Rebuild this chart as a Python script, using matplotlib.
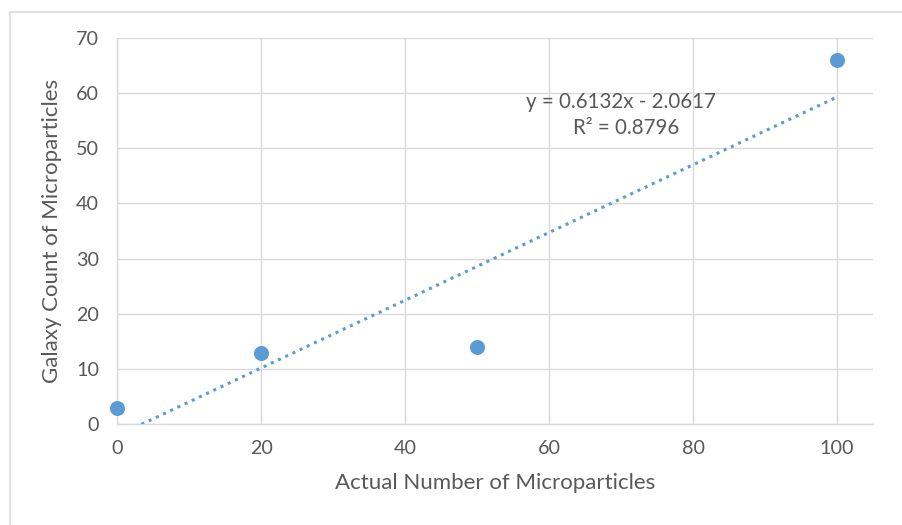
import matplotlib
matplotlib.use("Agg")
import matplotlib.pyplot as plt
import numpy as np
from matplotlib.patches import Rectangle

plt.rcParams['font.family'] = ['Lato', 'DejaVu Sans']

actual = [0, 20, 50, 100]
galaxy = [3, 13, 14, 66]
slope = 0.6132
intercept = -2.0617
r2 = 0.8796
xticks = [0, 20, 40, 60, 80, 100]
yticks = [0, 10, 20, 30, 40, 50, 60, 70]

blue = '#5B9BD5'
grid = '#D9D9D9'
txt = '#595959'

fig = plt.figure(figsize=(9.02, 5.25), dpi=100)
fig.patches.append(Rectangle((10/902, -0.1), 1.2, 1.1 - 12/525, transform=fig.transFigure,
                             fill=False, edgecolor='#D9D9D9', linewidth=1.2))
ax = fig.add_axes([117.3/902, 1 - 424.3/525, (873 - 117.3)/902, (424.3 - 37.7)/525])

# trendline from y=0 to x=100
x0 = -intercept / slope
tx = np.array([x0, 100])
ax.plot(tx, slope * tx + intercept, linestyle=(0, (1, 1.6)), color=blue, linewidth=2.2, zorder=3)
ax.plot(actual, galaxy, 'o', color=blue, markersize=9.8, zorder=4, clip_on=False)

ax.set_xlim(0, 105)
ax.set_ylim(0, 70)
ax.set_xticks(xticks)
ax.set_yticks(yticks)
ax.grid(True, color=grid, linewidth=1.0)
ax.set_axisbelow(True)
for s in ['top', 'right']:
    ax.spines[s].set_visible(False)
for s in ['left', 'bottom']:
    ax.spines[s].set_color(grid)
    ax.spines[s].set_linewidth(1.0)
ax.tick_params(length=0, labelsize=14.2, colors=txt, pad=11)
ax.tick_params(axis='y', pad=13)

ax.set_xlabel('Actual Number of Microparticles', fontsize=16, color=txt, labelpad=12)
ax.set_ylabel('Galaxy Count of Microparticles', fontsize=16, color=txt, labelpad=10)

ax.text(621/902, 1 - 102/525, f'y = {slope}x - {abs(intercept)}', transform=fig.transFigure,
        ha='center', va='center', fontsize=14.8, color=txt)
ax.text(626/902, 1 - 128/525, f'R² = {r2}', transform=fig.transFigure,
        ha='center', va='center', fontsize=14.8, color=txt)

fig.savefig('out.png', dpi=100, facecolor='white')
